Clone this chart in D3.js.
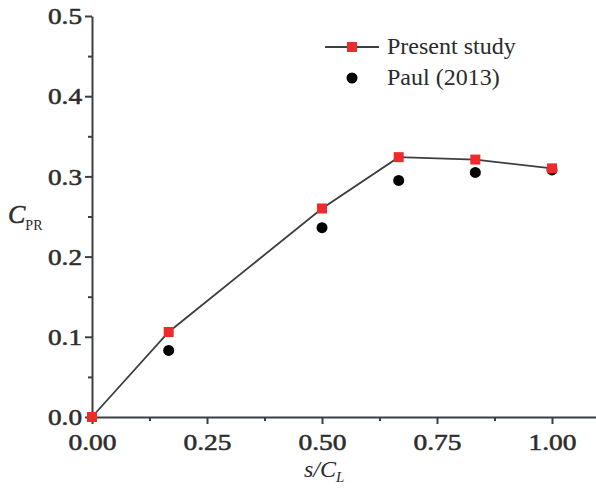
<!DOCTYPE html>
<html>
<head>
<meta charset="utf-8">
<script src="https://cdn.jsdelivr.net/npm/d3@7"></script>
<style>
  body { margin: 0; background: #fff; }
  text { font-family: "Liberation Serif", "Times New Roman", serif; fill: #2b2b2b; }
</style>
</head>
<body>
<div id="chart"></div>
<script>
// data
var ratioX = [0, 1 / 6, 1 / 2, 2 / 3, 5 / 6, 1];
var presentCpr = [0, 0.106, 0.260, 0.324, 0.321, 0.310];
var paulX = [1 / 6, 1 / 2, 2 / 3, 5 / 6, 1];
var paulCpr = [0.083, 0.236, 0.295, 0.305, 0.308];
var xTicks = [0, 0.25, 0.5, 0.75, 1.0];
var xMinorTicks = [0.125, 0.375, 0.625, 0.875];
var yTicks = [0, 0.1, 0.2, 0.3, 0.4, 0.5];
var yMinorTicks = [0.05, 0.15, 0.25, 0.35, 0.45];
var seriesNames = ["Present study", "Paul (2013)"];

var width = 596, height = 503;
var margin = { top: 16, right: 0, bottom: 86, left: 92 };

var svg = d3.select("#chart").append("svg")
    .attr("width", width)
    .attr("height", height);

// x goes slightly past 1.0, axis runs to the image edge
var xScale = d3.scaleLinear().domain([0, 1.1]).range([margin.left, margin.left + 506]);
var yScale = d3.scaleLinear().domain([0, 0.5]).range([height - margin.bottom, margin.top]);

var axisColor = "#3a3f42";

// x axis
var xAxis = svg.append("g")
    .attr("transform", "translate(0," + yScale(0) + ")")
    .call(d3.axisBottom(xScale).tickValues(xTicks).tickFormat(d3.format(".2f")).tickSize(7).tickSizeOuter(0));
svg.append("g")
    .attr("transform", "translate(0," + yScale(0) + ")")
    .call(d3.axisBottom(xScale).tickValues(xMinorTicks).tickFormat("").tickSize(4).tickSizeOuter(0))
    .select(".domain").remove();

// y axis
var yAxis = svg.append("g")
    .attr("transform", "translate(" + xScale(0) + ",0)")
    .call(d3.axisLeft(yScale).tickValues(yTicks).tickFormat(d3.format(".1f")).tickSize(7).tickSizeOuter(0));
svg.append("g")
    .attr("transform", "translate(" + xScale(0) + ",0)")
    .call(d3.axisLeft(yScale).tickValues(yMinorTicks).tickFormat("").tickSize(4).tickSizeOuter(0))
    .select(".domain").remove();

svg.selectAll(".domain, .tick line")
    .attr("stroke", axisColor)
    .attr("stroke-width", 2);

// tick labels are a bit wide and heavy in the original
svg.selectAll(".tick text")
    .attr("fill", "#333")
    .attr("stroke", "#333")
    .attr("stroke-width", 0.6)
    .style("font-family", "'Liberation Serif', serif")
    .style("font-size", "24px");
xAxis.selectAll(".tick text")
    .attr("dy", "0.95em")
    .attr("textLength", 48)
    .attr("lengthAdjust", "spacingAndGlyphs");
yAxis.selectAll(".tick text")
    .attr("x", -10)
    .attr("textLength", 34)
    .attr("lengthAdjust", "spacingAndGlyphs");

// axis titles
var yTitle = svg.append("text")
    .attr("x", 8)
    .attr("y", 223)
    .style("font-size", "26px");
yTitle.append("tspan").attr("font-style", "italic").attr("stroke", "#2b2b2b").attr("stroke-width", 0.5).text("C");
yTitle.append("tspan").attr("dy", 7).style("font-size", "14px").text("PR");

var xTitle = svg.append("text")
    .attr("x", 304)
    .attr("y", 477)
    .style("font-size", "24px");
xTitle.append("tspan").attr("font-style", "italic").text("s/C");
xTitle.append("tspan").attr("dy", 5).attr("font-style", "italic").style("font-size", "15px").text("L");

// present study line + squares
var line = d3.line()
    .x(function (d, i) { return xScale(ratioX[i]); })
    .y(function (d) { return yScale(d); });

svg.append("path")
    .datum(presentCpr)
    .attr("d", line)
    .attr("fill", "none")
    .attr("stroke", "#3a3f42")
    .attr("stroke-width", 1.8);

svg.selectAll(".paul")
    .data(paulCpr)
    .enter().append("circle")
    .attr("class", "paul")
    .attr("cx", function (d, i) { return xScale(paulX[i]); })
    .attr("cy", function (d) { return yScale(d); })
    .attr("r", 5.5)
    .attr("fill", "#000");

svg.selectAll(".present")
    .data(presentCpr)
    .enter().append("rect")
    .attr("class", "present")
    .attr("x", function (d, i) { return xScale(ratioX[i]) - 5; })
    .attr("y", function (d) { return yScale(d) - 5; })
    .attr("width", 10)
    .attr("height", 10)
    .attr("fill", "#ee2a2a");

// legend
var legend = svg.append("g").attr("transform", "translate(325,47)");
legend.append("line")
    .attr("x1", 0).attr("x2", 54)
    .attr("stroke", "#3a3f42").attr("stroke-width", 1.8);
legend.append("rect")
    .attr("x", 22).attr("y", -5).attr("width", 10).attr("height", 10)
    .attr("fill", "#ee2a2a");
legend.append("circle")
    .attr("cx", 27).attr("cy", 31).attr("r", 5.5).attr("fill", "#000");
legend.selectAll(".leg-text")
    .data(seriesNames)
    .enter().append("text")
    .attr("class", "leg-text")
    .attr("x", 62)
    .attr("y", function (d, i) { return i * 31 + 7; })
    .style("font-size", "24px")
    .text(function (d) { return d; });
</script>
</body>
</html>
